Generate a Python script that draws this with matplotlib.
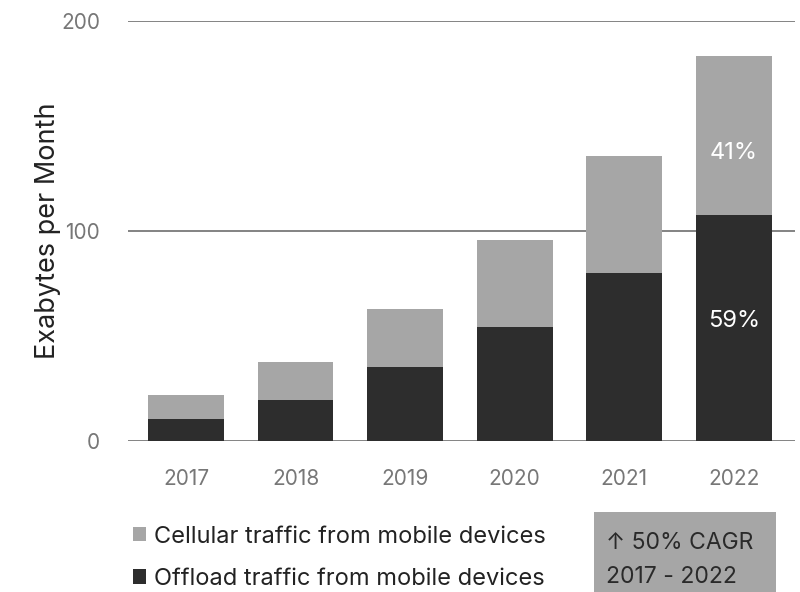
import matplotlib
matplotlib.use("Agg")
from matplotlib import pyplot as plt
from matplotlib.patches import Rectangle
import numpy as np

plt.rcParams['font.family'] = ['Inter', 'DejaVu Sans']

years = ['2017', '2018', '2019', '2020', '2021', '2022']
offload = [10.7, 19.6, 35.1, 54.5, 80.1, 107.5]
total = [22.1, 37.6, 62.9, 95.6, 135.5, 183.1]
cellular = [t - o for t, o in zip(total, offload)]
share_labels = ['41%', '59%']  # 2022: cellular, offload

light = '#a6a6a6'
dark = '#2d2d2d'

fig = plt.figure(figsize=(8, 5.92), dpi=100)
ax = fig.add_axes([0.16, 0.255, 0.834, 0.71])

x = np.arange(len(years))
b_off = ax.bar(x, offload, width=0.69, color=dark, zorder=3,
               label='Offload traffic from mobile devices')
b_cell = ax.bar(x, cellular, width=0.69, bottom=offload, color=light, zorder=3,
                label='Cellular traffic from mobile devices')

# share labels on the last bar
last = len(years) - 1
ax.text(x[last], offload[last] + cellular[last] * 0.39, share_labels[0],
        ha='center', va='center', color='white', fontsize=17)
ax.text(x[last], offload[last] * 0.53, share_labels[1],
        ha='center', va='center', color='white', fontsize=17)

ax.set_ylim(0, 200)
ax.set_xlim(-0.53, 5.56)
ax.set_yticks([0, 100, 200])
ax.set_xticks(x)
ax.set_xticklabels(years)
ax.yaxis.grid(True, color='#7a7a7a', linewidth=1.3, zorder=1)
for s in ax.spines.values():
    s.set_visible(False)
ax.tick_params(length=0, colors='#777777', labelsize=15)
ax.tick_params(axis='y', pad=20)
ax.tick_params(axis='x', pad=20)
ax.set_ylabel('Exabytes per Month', fontsize=19.5, color='#222222', labelpad=0)

fig.legend(handles=[b_cell, b_off], loc='upper left',
           bbox_to_anchor=(0.166, 0.112), frameon=False,
           handlelength=0.55, handleheight=0.55, handletextpad=0.35,
           labelspacing=0.85, fontsize=17, labelcolor='#222222',
           borderaxespad=0, borderpad=0)

# CAGR box
fig.patches.append(Rectangle((0.743, 0.0), 0.227, 0.135, transform=fig.transFigure,
                             facecolor=light, edgecolor='none'))
fig.text(0.758, 0.083, '\u2191 50% CAGR', fontsize=16.5, color='#2a2a2a',
         va='center', ha='left', family=['Inter', 'DejaVu Sans'])
fig.text(0.758, 0.025, '2017 - 2022', fontsize=16.5, color='#2a2a2a',
         va='center', ha='left')

fig.savefig('out.png', dpi=100)
